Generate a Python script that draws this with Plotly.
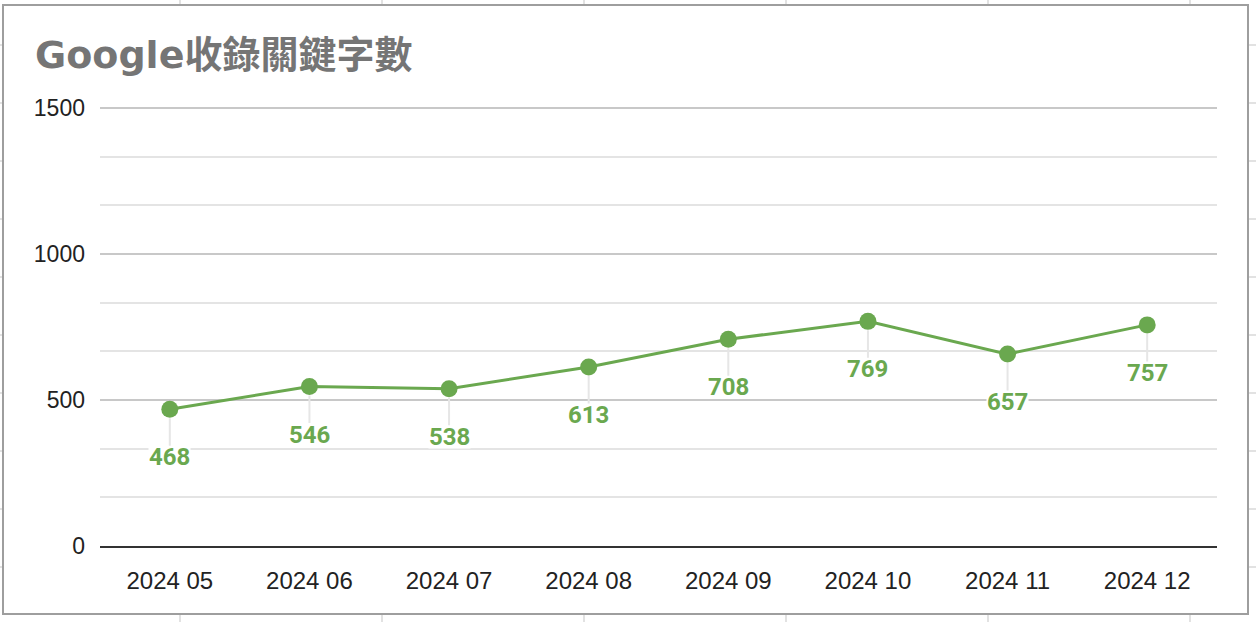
import plotly.graph_objects as go

# data
months = ["2024 05", "2024 06", "2024 07", "2024 08",
          "2024 09", "2024 10", "2024 11", "2024 12"]
keywords = [468, 546, 538, 613, 708, 769, 657, 757]

GREEN = "#6aa84f"
W, H = 1256, 622
L, R, T, B = 100, 1217, 102, 546   # plot area in pixels (top = 1520)
YMAX = 1520


def px2x(px):
    return (px - L) / (R - L)


def px2y(py):
    return (B - py) / (B - T)


fig = go.Figure()

fig.add_trace(go.Scatter(
    x=months, y=keywords,
    mode="lines+markers",
    line=dict(color=GREEN, width=3),
    marker=dict(color=GREEN, size=17),
    hovertemplate="%{x}: %{y}<extra></extra>",
    showlegend=False,
))

# data labels under each point with a light leader line
annotations = []
for m, v in zip(months, keywords):
    annotations.append(dict(
        x=m, y=v, xref="x", yref="y",
        text=f"<b>{v}</b>",
        showarrow=True, arrowhead=0, arrowwidth=2, arrowcolor="#e6e6e6",
        ax=0, ay=48, standoff=9,
        bgcolor="white", borderpad=0, height=22,
        font=dict(family="Roboto", size=24, color=GREEN),
    ))

# spreadsheet cells behind the chart, then the chart frame
shapes = []
for cx in [180, 382, 584, 786, 988, 1190]:
    shapes.append(dict(type="line", xref="paper", yref="paper", layer="below",
                       x0=px2x(cx), x1=px2x(cx), y0=px2y(0), y1=px2y(H),
                       line=dict(color="#e2e2e2", width=2)))
for cy in [45, 103, 161, 219, 277, 335, 393, 451, 509, 567]:
    shapes.append(dict(type="line", xref="paper", yref="paper", layer="below",
                       x0=px2x(0), x1=px2x(W), y0=px2y(cy), y1=px2y(cy),
                       line=dict(color="#e2e2e2", width=2)))
shapes.append(dict(type="rect", xref="paper", yref="paper", layer="below",
                   x0=px2x(3), x1=px2x(1248), y0=px2y(614), y1=px2y(5),
                   fillcolor="white", line=dict(color="#9e9e9e", width=2)))

fig.update_layout(
    width=W, height=H,
    margin=dict(l=L, r=W - R, t=T, b=H - B, pad=0),
    paper_bgcolor="white",
    plot_bgcolor="rgba(0,0,0,0)",
    title=dict(
        text='<b><span style="font-family:\'DejaVu Sans\'">Google</span>收錄關鍵字數</b>',
        x=35 / W, xref="container", xanchor="left",
        y=1 - 55 / H, yref="container", yanchor="middle",
        font=dict(family="'Noto Sans CJK TC', Arial", size=38, color="#757575"),
    ),
    xaxis=dict(
        type="category", range=[-0.5, len(months) - 0.5],
        showgrid=False, showline=True, linecolor="#333333", linewidth=2,
        ticks="", ticklabelstandoff=12,
        tickfont=dict(family="Arial", size=24, color="#222222"),
    ),
    yaxis=dict(
        range=[0, YMAX], tickvals=[0, 500, 1000, 1500],
        showgrid=True, gridcolor="#c8c8c8", gridwidth=1.5,
        minor=dict(tick0=0, dtick=500 / 3, showgrid=True,
                   gridcolor="#e4e4e4", gridwidth=1.5),
        zeroline=False, ticks="", ticklabelstandoff=14,
        tickfont=dict(family="Arial", size=23, color="#222222"),
    ),
    annotations=annotations,
    shapes=shapes,
    hovermode="closest",
)

fig.write_html("out.html", config={"displayModeBar": False},
               post_script="document.body.style.margin='0px';")
